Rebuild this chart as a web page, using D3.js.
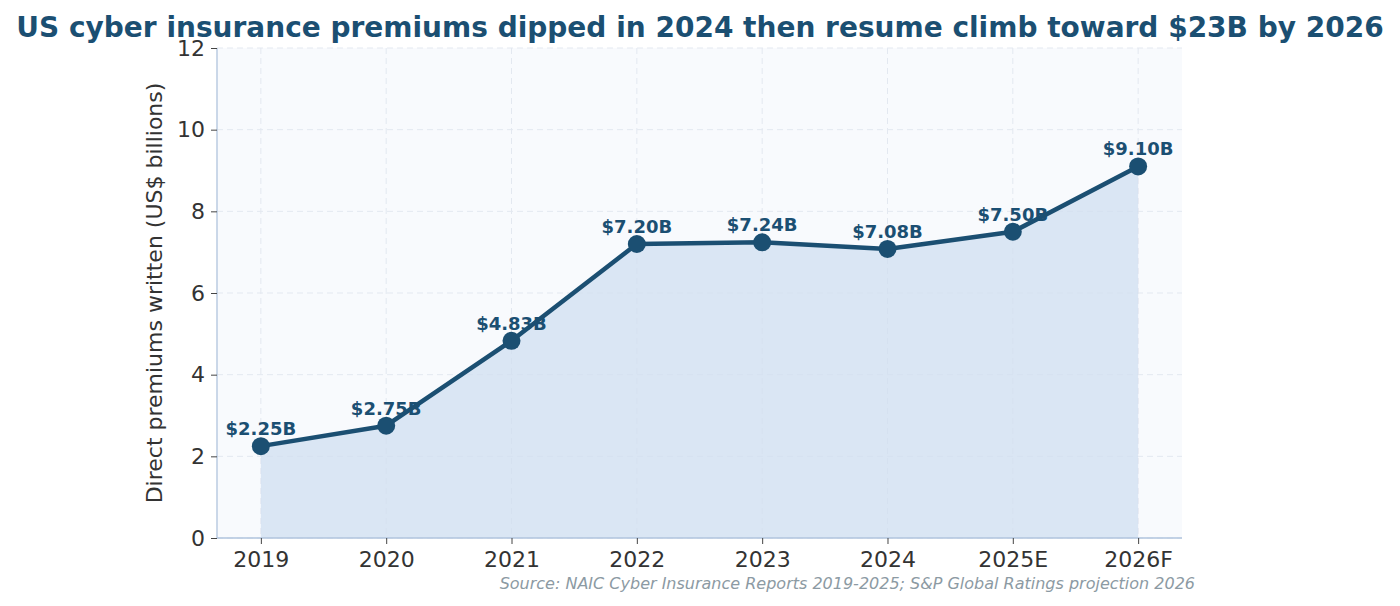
<!DOCTYPE html>
<html>
<head>
<meta charset="utf-8">
<script src="https://cdn.jsdelivr.net/npm/d3@7"></script>
<style>
  body { margin: 0; background: #fff; }
  svg { display: block; font-family: "DejaVu Sans", sans-serif; }
</style>
</head>
<body>
<svg id="chart" width="1400" height="606"></svg>
<script>
// Chart data
const years = ["2019", "2020", "2021", "2022", "2023", "2024", "2025E", "2026F"];
const premiums = [2.25, 2.75, 4.83, 7.20, 7.24, 7.08, 7.50, 9.10];
const yTicks = [0, 2, 4, 6, 8, 10, 12];

const W = 1400, H = 606;
const margin = { top: 48, right: 218, bottom: 68, left: 217 };
const plotW = W - margin.left - margin.right;
const plotH = H - margin.top - margin.bottom;

const navy = "#1b4f72";

const svg = d3.select("#chart");

// Title
svg.append("text")
  .attr("x", 700)
  .attr("y", 37)
  .attr("text-anchor", "middle")
  .style("font-size", "28px")
  .style("font-weight", "bold")
  .style("fill", navy)
  .text("US cyber insurance premiums dipped in 2024 then resume climb toward $23B by 2026");

const g = svg.append("g").attr("transform", `translate(${margin.left},${margin.top})`);

// Scales: points at 0..7 with 0.35 padding either side
const idx = d3.scaleLinear().domain([-0.35, years.length - 1 + 0.35]).range([0, plotW]);
const y = d3.scaleLinear().domain([0, 12]).range([plotH, 0]);

// Plot background
g.append("rect")
  .attr("width", plotW)
  .attr("height", plotH)
  .attr("fill", "#f8fafd");

// Grid
g.selectAll(".hgrid")
  .data(yTicks)
  .enter().append("line")
  .attr("x1", 0).attr("x2", plotW)
  .attr("y1", d => y(d)).attr("y2", d => y(d))
  .attr("stroke", "#e3e8f0")
  .attr("stroke-width", 1)
  .attr("stroke-dasharray", "6,4");

g.selectAll(".vgrid")
  .data(years)
  .enter().append("line")
  .attr("x1", (d, i) => idx(i)).attr("x2", (d, i) => idx(i))
  .attr("y1", 0).attr("y2", plotH)
  .attr("stroke", "#e3e8f0")
  .attr("stroke-width", 1)
  .attr("stroke-dasharray", "6,4");

const pts = years.map((d, i) => ({ year: d, v: premiums[i], i }));

// Area fill
const area = d3.area()
  .x(d => idx(d.i))
  .y0(y(0))
  .y1(d => y(d.v));

g.append("path")
  .datum(pts)
  .attr("d", area)
  .attr("fill", "#d0dff0")
  .attr("fill-opacity", 0.75);

// Line
const line = d3.line()
  .x(d => idx(d.i))
  .y(d => y(d.v));

g.append("path")
  .datum(pts)
  .attr("d", line)
  .attr("fill", "none")
  .attr("stroke", navy)
  .attr("stroke-width", 4.5)
  .attr("stroke-linejoin", "round");

// Markers
g.selectAll(".dot")
  .data(pts)
  .enter().append("circle")
  .attr("cx", d => idx(d.i))
  .attr("cy", d => y(d.v))
  .attr("r", 9)
  .attr("fill", navy);

// Value labels
g.selectAll(".lbl")
  .data(pts)
  .enter().append("text")
  .attr("x", d => idx(d.i))
  .attr("y", d => y(d.v) - 11)
  .attr("text-anchor", "middle")
  .style("font-size", "18px")
  .style("font-weight", "bold")
  .style("fill", navy)
  .text(d => `$${d.v.toFixed(2)}B`);

// Axes
const yAxis = g.append("g")
  .call(d3.axisLeft(y).tickValues(yTicks).tickSize(6).tickPadding(6));
const xAxis = g.append("g")
  .attr("transform", `translate(0,${plotH})`)
  .call(d3.axisBottom(idx).tickValues(d3.range(years.length)).tickFormat(i => years[i]).tickSize(6).tickPadding(7));

[yAxis, xAxis].forEach(ax => {
  ax.select(".domain").attr("stroke", "#b0c4de").attr("stroke-width", 1.3);
  ax.selectAll(".tick line").attr("stroke", "#444");
  ax.selectAll(".tick text")
    .style("font-size", "22px")
    .style("fill", "#333")
    .style("font-family", "DejaVu Sans, sans-serif");
});
// Only left and bottom spines
yAxis.select(".domain").attr("d", `M0,0V${plotH}`);
xAxis.select(".domain").attr("d", `M0,0H${plotW}`);

// Y-axis label
svg.append("text")
  .attr("transform", `translate(162,${margin.top + plotH / 2}) rotate(-90)`)
  .attr("text-anchor", "middle")
  .style("font-size", "22px")
  .style("fill", "#333")
  .text("Direct premiums written (US$ billions)");

// Source note
svg.append("text")
  .attr("x", 1195)
  .attr("y", 589)
  .attr("text-anchor", "end")
  .style("font-size", "16px")
  .style("font-style", "italic")
  .style("fill", "#8c9aa3")
  .text("Source: NAIC Cyber Insurance Reports 2019-2025; S&P Global Ratings projection 2026");
</script>
</body>
</html>
